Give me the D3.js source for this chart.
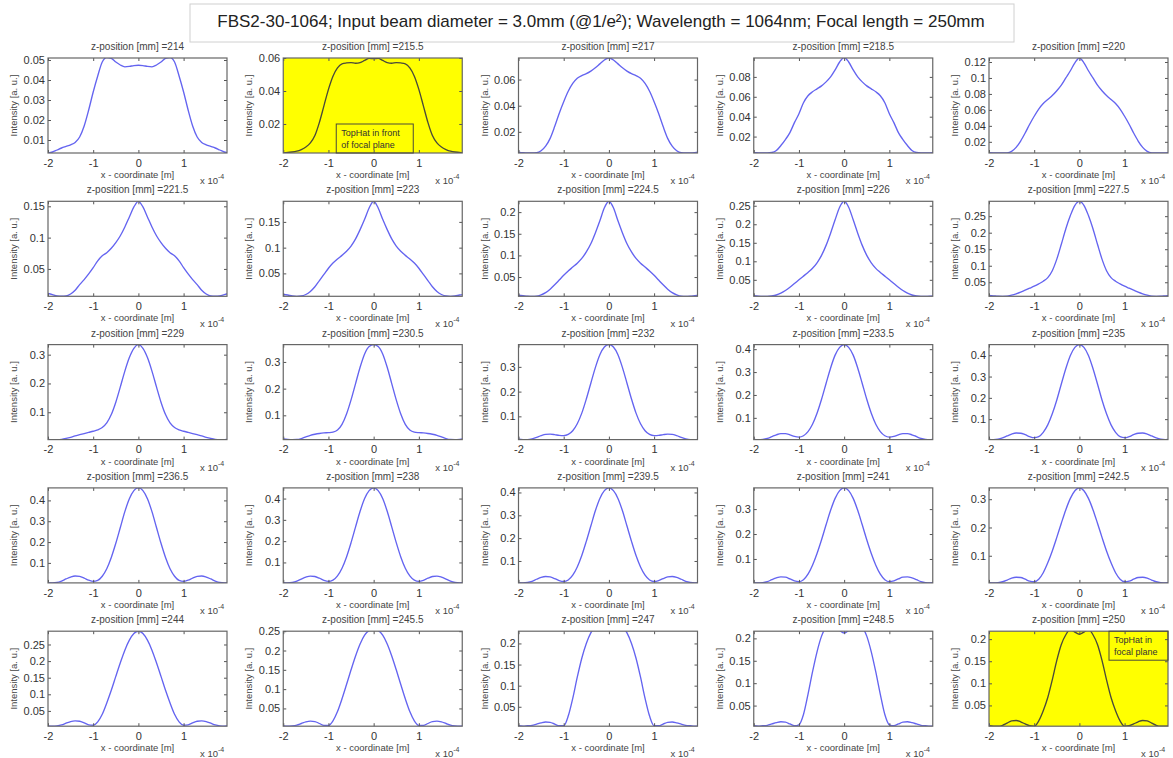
<!DOCTYPE html>
<html><head><meta charset="utf-8">
<script src="https://cdn.jsdelivr.net/npm/d3@7"></script>
<style>
body{margin:0;background:#fff;}
svg{display:block;font-family:"Liberation Sans",Arial,sans-serif;}
</style>
</head><body>
<svg id="chart" width="1173" height="758"></svg>
<script>
const chartTitle = "FBS2-30-1064; Input beam diameter = 3.0mm (@1/e\u00B2); Wavelength = 1064nm; Focal length = 250mm";
const zPositions = ["214","215.5","217","218.5","220","221.5","223","224.5","226","227.5","229","230.5","232","233.5","235","236.5","238","239.5","241","242.5","244","245.5","247","248.5","250"];
const xCoord = [-2.0,-1.9,-1.8,-1.7,-1.6,-1.5,-1.4,-1.3,-1.2,-1.1,-1.0,-0.9,-0.8,-0.7,-0.6,-0.5,-0.4,-0.3,-0.2,-0.1,0,0.1,0.2,0.3,0.4,0.5,0.6,0.7,0.8,0.9,1.0,1.1,1.2,1.3,1.4,1.5,1.6,1.7,1.8,1.9,2.0];
const xTickValues = [-2,-1,0,1];
const xTickLabels = ["-2","-1","0","1"];

const int214 = [0.0035,0.004,0.005,0.006,0.0068,0.0076,0.0088,0.0115,0.017,0.025,0.034,0.042,0.049,0.0512,0.0508,0.049,0.0475,0.0466,0.0468,0.0472,0.0474,0.0472,0.0468,0.0466,0.0475,0.049,0.0508,0.0512,0.049,0.042,0.034,0.025,0.017,0.0115,0.0088,0.0076,0.0068,0.006,0.005,0.004,0.0035];
const int215_5 = [0.0025,0.0028,0.003,0.0035,0.0045,0.006,0.0085,0.013,0.021,0.031,0.041,0.049,0.054,0.0565,0.057,0.0572,0.0568,0.0572,0.0585,0.0598,0.0596,0.0598,0.0585,0.0572,0.0568,0.0572,0.057,0.0565,0.054,0.049,0.041,0.031,0.021,0.013,0.0085,0.006,0.0045,0.0035,0.003,0.0028,0.0025];
const int217 = [0.0045,0.004,0.0038,0.0038,0.004,0.0055,0.009,0.015,0.024,0.034,0.043,0.051,0.057,0.061,0.063,0.0645,0.0665,0.069,0.072,0.075,0.0765,0.075,0.072,0.069,0.0665,0.0645,0.063,0.061,0.057,0.051,0.043,0.034,0.024,0.015,0.009,0.0055,0.004,0.0038,0.0038,0.004,0.0045];
const int218_5 = [0.0038,0.0037,0.0036,0.0036,0.004,0.006,0.011,0.017,0.024,0.034,0.043,0.054,0.061,0.065,0.068,0.071,0.075,0.08,0.087,0.095,0.0995,0.095,0.087,0.08,0.075,0.071,0.068,0.065,0.061,0.054,0.043,0.034,0.024,0.017,0.011,0.006,0.004,0.0036,0.0036,0.0037,0.0038];
const int220 = [0.0065,0.0062,0.006,0.006,0.0062,0.008,0.013,0.021,0.031,0.042,0.052,0.061,0.068,0.073,0.078,0.084,0.091,0.1,0.109,0.119,0.125,0.119,0.109,0.1,0.091,0.084,0.078,0.073,0.068,0.061,0.052,0.042,0.031,0.021,0.013,0.008,0.0062,0.006,0.006,0.0062,0.0065];
const int221_5 = [0.011,0.009,0.007,0.0065,0.0068,0.01,0.016,0.025,0.033,0.042,0.052,0.063,0.071,0.076,0.083,0.092,0.103,0.117,0.133,0.149,0.158,0.149,0.133,0.117,0.103,0.092,0.083,0.076,0.071,0.063,0.052,0.042,0.033,0.025,0.016,0.01,0.0068,0.0065,0.007,0.009,0.011];
const int223 = [0.009,0.008,0.006,0.0055,0.006,0.009,0.015,0.024,0.036,0.048,0.06,0.07,0.078,0.085,0.093,0.103,0.117,0.135,0.155,0.177,0.19,0.177,0.155,0.135,0.117,0.103,0.093,0.085,0.078,0.07,0.06,0.048,0.036,0.024,0.015,0.009,0.006,0.0055,0.006,0.008,0.009];
const int224_5 = [0.008,0.007,0.006,0.0055,0.006,0.009,0.014,0.022,0.032,0.043,0.054,0.064,0.073,0.082,0.093,0.108,0.127,0.152,0.18,0.21,0.225,0.21,0.18,0.152,0.127,0.108,0.093,0.082,0.073,0.064,0.054,0.043,0.032,0.022,0.014,0.009,0.006,0.0055,0.006,0.007,0.008];
const int226 = [0.007,0.006,0.0055,0.0055,0.0065,0.009,0.014,0.021,0.03,0.04,0.05,0.06,0.07,0.081,0.096,0.116,0.143,0.176,0.212,0.246,0.262,0.246,0.212,0.176,0.143,0.116,0.096,0.081,0.07,0.06,0.05,0.04,0.03,0.021,0.014,0.009,0.0065,0.0055,0.0055,0.006,0.007];
const int227_5 = [0.01,0.009,0.008,0.0075,0.008,0.011,0.015,0.02,0.026,0.032,0.038,0.045,0.053,0.064,0.085,0.12,0.165,0.212,0.252,0.283,0.295,0.283,0.252,0.212,0.165,0.12,0.085,0.064,0.053,0.045,0.038,0.032,0.026,0.02,0.015,0.011,0.008,0.0075,0.008,0.009,0.01];
const int229 = [0.006,0.005,0.005,0.006,0.009,0.013,0.018,0.022,0.026,0.03,0.034,0.039,0.047,0.063,0.092,0.135,0.188,0.243,0.29,0.322,0.335,0.322,0.29,0.243,0.188,0.135,0.092,0.063,0.047,0.039,0.034,0.03,0.026,0.022,0.018,0.013,0.009,0.006,0.005,0.005,0.006];
const int230_5 = [0.012,0.01,0.009,0.0095,0.013,0.019,0.025,0.029,0.032,0.034,0.035,0.037,0.045,0.066,0.105,0.158,0.219,0.28,0.33,0.358,0.365,0.358,0.33,0.28,0.219,0.158,0.105,0.066,0.045,0.037,0.035,0.034,0.032,0.029,0.025,0.019,0.013,0.0095,0.009,0.01,0.012];
const int232 = [0.008,0.006,0.006,0.009,0.015,0.022,0.027,0.028,0.026,0.023,0.022,0.027,0.042,0.07,0.113,0.17,0.234,0.297,0.349,0.38,0.39,0.38,0.349,0.297,0.234,0.17,0.113,0.07,0.042,0.027,0.022,0.023,0.026,0.028,0.027,0.022,0.015,0.009,0.006,0.006,0.008];
const int233_5 = [0.006,0.005,0.006,0.01,0.018,0.026,0.031,0.031,0.026,0.019,0.016,0.022,0.04,0.072,0.12,0.181,0.25,0.318,0.374,0.408,0.42,0.408,0.374,0.318,0.25,0.181,0.12,0.072,0.04,0.022,0.016,0.019,0.026,0.031,0.031,0.026,0.018,0.01,0.006,0.005,0.006];
const int235 = [0.005,0.004,0.006,0.012,0.021,0.03,0.035,0.034,0.027,0.018,0.013,0.018,0.038,0.073,0.125,0.19,0.265,0.338,0.399,0.437,0.45,0.437,0.399,0.338,0.265,0.19,0.125,0.073,0.038,0.018,0.013,0.018,0.027,0.034,0.035,0.03,0.021,0.012,0.006,0.004,0.005];
const int236_5 = [0.005,0.004,0.006,0.013,0.023,0.032,0.037,0.035,0.027,0.017,0.011,0.016,0.036,0.072,0.126,0.194,0.27,0.346,0.408,0.447,0.46,0.447,0.408,0.346,0.27,0.194,0.126,0.072,0.036,0.016,0.011,0.017,0.027,0.035,0.037,0.032,0.023,0.013,0.006,0.004,0.005];
const int238 = [0.005,0.004,0.006,0.012,0.022,0.031,0.036,0.034,0.026,0.016,0.011,0.017,0.037,0.073,0.126,0.193,0.267,0.34,0.4,0.437,0.45,0.437,0.4,0.34,0.267,0.193,0.126,0.073,0.037,0.017,0.011,0.016,0.026,0.034,0.036,0.031,0.022,0.012,0.006,0.004,0.005];
const int239_5 = [0.005,0.004,0.006,0.011,0.02,0.028,0.032,0.03,0.023,0.014,0.01,0.017,0.038,0.074,0.124,0.186,0.253,0.32,0.374,0.408,0.42,0.408,0.374,0.32,0.253,0.186,0.124,0.074,0.038,0.017,0.01,0.014,0.023,0.03,0.032,0.028,0.02,0.011,0.006,0.004,0.005];
const int241 = [0.005,0.004,0.005,0.009,0.017,0.024,0.028,0.027,0.02,0.012,0.009,0.017,0.039,0.075,0.122,0.177,0.237,0.295,0.343,0.374,0.385,0.374,0.343,0.295,0.237,0.177,0.122,0.075,0.039,0.017,0.009,0.012,0.02,0.027,0.028,0.024,0.017,0.009,0.005,0.004,0.005];
const int242_5 = [0.005,0.004,0.005,0.008,0.014,0.021,0.024,0.023,0.017,0.01,0.008,0.017,0.04,0.075,0.117,0.165,0.215,0.263,0.303,0.33,0.34,0.33,0.303,0.263,0.215,0.165,0.117,0.075,0.04,0.017,0.008,0.01,0.017,0.023,0.024,0.021,0.014,0.008,0.005,0.004,0.005];
const int244 = [0.005,0.004,0.005,0.008,0.013,0.018,0.02,0.019,0.014,0.008,0.007,0.017,0.04,0.074,0.112,0.154,0.195,0.233,0.263,0.283,0.29,0.283,0.263,0.233,0.195,0.154,0.112,0.074,0.04,0.017,0.007,0.008,0.014,0.019,0.02,0.018,0.013,0.008,0.005,0.004,0.005];
const int245_5 = [0.005,0.004,0.005,0.007,0.011,0.015,0.017,0.016,0.011,0.006,0.006,0.018,0.042,0.075,0.112,0.15,0.186,0.217,0.24,0.252,0.256,0.252,0.24,0.217,0.186,0.15,0.112,0.075,0.042,0.018,0.006,0.006,0.011,0.016,0.017,0.015,0.011,0.007,0.005,0.004,0.005];
const int247 = [0.005,0.004,0.005,0.006,0.009,0.012,0.014,0.013,0.009,0.005,0.005,0.028,0.07,0.12,0.165,0.2,0.225,0.24,0.25,0.255,0.256,0.255,0.25,0.24,0.225,0.2,0.165,0.12,0.07,0.028,0.005,0.005,0.009,0.013,0.014,0.012,0.009,0.006,0.005,0.004,0.005];
const int248_5 = [0.005,0.004,0.005,0.006,0.009,0.012,0.014,0.013,0.009,0.005,0.007,0.03,0.075,0.125,0.17,0.205,0.225,0.232,0.228,0.218,0.212,0.218,0.228,0.232,0.225,0.205,0.17,0.125,0.075,0.03,0.007,0.005,0.009,0.013,0.014,0.012,0.009,0.006,0.005,0.004,0.005];
const int250 = [0.004,0.003,0.003,0.005,0.01,0.015,0.016,0.013,0.008,0.004,0.003,0.015,0.038,0.068,0.108,0.152,0.188,0.21,0.222,0.216,0.211,0.216,0.222,0.21,0.188,0.152,0.108,0.068,0.038,0.015,0.003,0.004,0.008,0.013,0.016,0.015,0.01,0.005,0.003,0.003,0.004];

const yTicks = [
  [0.01,0.02,0.03,0.04,0.05],[0.02,0.04,0.06],[0.02,0.04,0.06],[0.02,0.04,0.06,0.08],[0.02,0.04,0.06,0.08,0.1,0.12],
  [0.05,0.1,0.15],[0.05,0.1,0.15],[0.05,0.1,0.15,0.2],[0.05,0.1,0.15,0.2,0.25],[0.05,0.1,0.15,0.2,0.25],
  [0.1,0.2,0.3],[0.1,0.2,0.3],[0.1,0.2,0.3],[0.1,0.2,0.3,0.4],[0.1,0.2,0.3,0.4],
  [0.1,0.2,0.3,0.4],[0.1,0.2,0.3,0.4],[0.1,0.2,0.3,0.4],[0.1,0.2,0.3],[0.1,0.2,0.3],
  [0.05,0.1,0.15,0.2,0.25],[0.05,0.1,0.15,0.2,0.25],[0.05,0.1,0.15,0.2],[0.05,0.1,0.15,0.2],[0.05,0.1,0.15,0.2]
];
const yLow = [0.0035,0.0024,0.0038,0.0035,0.006,0.0063,0.0055,0.0055,0.0055,0.0075,0.005,0.009,0.006,0.005,0.004,0.004,0.004,0.004,0.004,0.004,0.004,0.004,0.004,0.004,0.003];
const yHigh = [0.051,0.060,0.0765,0.099,0.125,0.158,0.19,0.225,0.262,0.295,0.335,0.365,0.39,0.42,0.45,0.46,0.45,0.42,0.385,0.34,0.29,0.25,0.229,0.216,0.218];
const highlighted = [1, 24];
const noteLines = { 1: ["TopHat in front", "of focal plane"], 24: ["TopHat in", "focal plane"] };

const profiles = [int214,int215_5,int217,int218_5,int220,int221_5,int223,int224_5,int226,int227_5,
  int229,int230_5,int232,int233_5,int235,int236_5,int238,int239_5,int241,int242_5,
  int244,int245_5,int247,int248_5,int250];

const svg = d3.select("#chart");
const W = 179, H = 95;

// main title
svg.append("rect").attr("x",190).attr("y",4).attr("width",824).attr("height",38)
  .attr("fill","#fff").attr("stroke","#d0d0d0").attr("stroke-width",1);
svg.append("text").attr("x",601).attr("y",27).attr("text-anchor","middle")
  .attr("font-size",17).attr("fill","#222").text(chartTitle);

const x = d3.scaleLinear().domain([-2, 1.96]).range([0, W]);

profiles.forEach((vals, i) => {
  const col = i % 5, row = Math.floor(i / 5);
  const left = 48 + col * 235.25, top = 58 + row * 143.3;
  const y = d3.scaleLinear().domain([yLow[i], yHigh[i]]).range([H, 0]);
  const hl = highlighted.includes(i);
  const g = svg.append("g").attr("transform", `translate(${left},${top})`);

  g.append("rect").attr("width", W).attr("height", H).attr("fill", hl ? "#ffff00" : "#fff");
  g.append("clipPath").attr("id", "clip" + i).append("rect").attr("width", W).attr("height", H);

  const line = d3.line().x((d, j) => x(xCoord[j])).y(d => y(d)).curve(d3.curveMonotoneX);
  g.append("path").datum(vals).attr("clip-path", `url(#clip${i})`)
    .attr("fill", "none").attr("stroke", hl ? "#4a4a3a" : "#6464f0")
    .attr("stroke-width", 1.35).attr("d", line);

  // axes
  const fmtX = d => xTickLabels[xTickValues.indexOf(d)];
  const bottom = g.append("g").attr("transform", `translate(0,${H})`)
    .call(d3.axisBottom(x).tickValues(xTickValues).tickSizeInner(-3).tickSizeOuter(0).tickPadding(6).tickFormat(fmtX));
  const leftAx = g.append("g")
    .call(d3.axisLeft(y).tickValues(yTicks[i]).tickSizeInner(-3).tickSizeOuter(0).tickPadding(3).tickFormat(d => String(d)));
  const topAx = g.append("g")
    .call(d3.axisTop(x).tickValues(xTickValues).tickSizeInner(-3).tickSizeOuter(0).tickFormat(""));
  const rightAx = g.append("g").attr("transform", `translate(${W},0)`)
    .call(d3.axisRight(y).tickValues(yTicks[i]).tickSizeInner(-3).tickSizeOuter(0).tickFormat(""));
  [bottom, leftAx, topAx, rightAx].forEach(a => {
    a.select(".domain").remove();
    a.selectAll(".tick line").attr("stroke", "#555");
    a.selectAll(".tick text").attr("fill", "#333").attr("font-size", 11)
      .attr("font-family", '"Liberation Sans",Arial,sans-serif');
  });

  // frame
  g.append("rect").attr("width", W).attr("height", H).attr("fill", "none")
    .attr("stroke", "#666").attr("stroke-width", 1.2);

  // labels
  g.append("text").attr("x", W / 2).attr("y", -8).attr("text-anchor", "middle")
    .attr("font-size", 10).attr("fill", "#444").text("z-position [mm] =" + zPositions[i]);
  g.append("text").attr("x", W / 2).attr("y", H + 25).attr("text-anchor", "middle")
    .attr("font-size", 9.5).attr("fill", "#444").text("x - coordinate [m]");
  g.append("text").attr("transform", `translate(-31,${H / 2}) rotate(-90)`).attr("text-anchor", "middle")
    .attr("font-size", 9.5).attr("fill", "#444").text("Intensity [a. u.]");
  const mult = g.append("text").attr("x", W - 27).attr("y", H + 31)
    .attr("font-size", 9.5).attr("fill", "#444");
  mult.append("tspan").text("x 10");
  mult.append("tspan").attr("dy", -5).attr("font-size", 7).text("-4");

  if (noteLines[i]) {
    const bx = i === 1 ? 53 : 120, bw = i === 1 ? 77 : 59, by = i === 1 ? 66 : 0, bh = 29;
    g.append("rect").attr("x", bx).attr("y", by).attr("width", bw).attr("height", bh)
      .attr("fill", "none").attr("stroke", "#4a4a3a").attr("stroke-width", 1);
    noteLines[i].forEach((t, k) => {
      g.append("text").attr("x", bx + 5).attr("y", by + 12 + k * 12)
        .attr("font-size", 9).attr("fill", "#333").text(t);
    });
  }
});
</script>
</body></html>
